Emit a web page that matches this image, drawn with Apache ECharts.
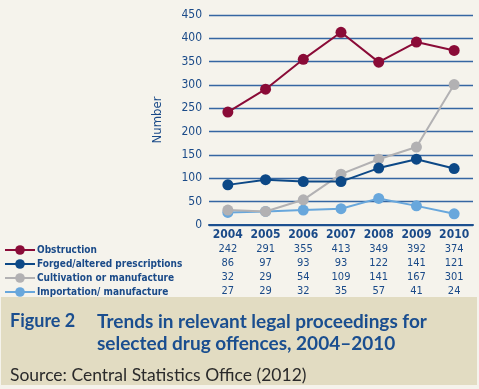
<!DOCTYPE html>
<html><head><meta charset="utf-8">
<script src="https://cdn.jsdelivr.net/npm/echarts@6/dist/echarts.min.js"></script>
<style>html,body{margin:0;padding:0;background:#f5f3ec;}#c{width:479px;height:389px;}</style>
</head><body><div id="c"></div>
<script>
const years = ['2004','2005','2006','2007','2008','2009','2010'];
const obstruction = [242,291,355,413,349,392,374];
const forged = [86,97,93,93,122,141,121];
const cultivation = [32,29,54,109,141,167,301];
const importation = [27,29,32,35,57,41,24];
const seriesNames = ['Obstruction','Forged/altered prescriptions','Cultivation or manufacture','Importation/ manufacture'];
const seriesColors = ['#8a0b37','#0c4886','#b2b1b3','#68a7dc'];
const yTicks = {min:0,max:450,interval:50};

const blue = '#1a4a88';
const font = '"DejaVu Sans Condensed","DejaVu Sans",sans-serif';
const allData = [obstruction, forged, cultivation, importation];

const chart = echarts.init(document.getElementById('c'));
const xAxes = [{
  type:'category', data:years, position:'bottom', gridIndex:0,
  axisLine:{lineStyle:{color:'#1b4f8f',width:2}},
  axisTick:{show:false},
  axisLabel:{color:blue,fontFamily:font,fontWeight:'bold',fontSize:12,margin:4,interval:0}
}];
allData.forEach((arr,i)=>{
  xAxes.push({
    type:'category', data:arr.map(String), position:'bottom', offset:15+14*i,
    axisLine:{show:false}, axisTick:{show:false}, splitLine:{show:false},
    axisLabel:{color:blue,fontFamily:font,fontSize:11,margin:4,interval:0}
  });
});
chart.setOption({
  backgroundColor:'#f5f3ec',
  animation:false,
  grid:{left:209,top:15,width:264,height:210},
  xAxis:xAxes,
  yAxis:{
    type:'value', min:yTicks.min, max:yTicks.max, interval:yTicks.interval,
    name:'Number', nameLocation:'middle', nameGap:45, nameRotate:90,
    nameTextStyle:{color:blue,fontFamily:font,fontSize:13},
    axisLine:{show:false}, axisTick:{show:false},
    axisLabel:{color:blue,fontFamily:font,fontSize:12,margin:7},
    splitLine:{lineStyle:{color:'#3566a2',width:1.4}}
  },
  legend:{
    orient:'vertical', left:-1, top:240, itemWidth:30, itemHeight:12, itemGap:4,
    data:seriesNames,
    textStyle:{color:blue,fontFamily:font,fontWeight:'bold',fontSize:10,padding:[0,0,0,-3]}
  },
  series:allData.map((arr,i)=>({
    name:seriesNames[i], type:'line', data:arr, xAxisIndex:0,
    symbol:'circle', symbolSize:11, z:10-i,
    lineStyle:{color:seriesColors[i],width:2},
    itemStyle:{color:seriesColors[i]}
  })),
  graphic:[
    {type:'rect',left:1,top:297,shape:{width:476,height:88},style:{fill:'#e2dcc2'},z:-1},
    {type:'text',left:10,top:312,style:{text:'Figure 2',fill:'#1a4e8f',font:'bold 18px Lato, sans-serif'}},
    {type:'text',left:97,top:311,style:{text:'Trends in relevant legal proceedings for\nselected drug offences, 2004\u20132010',fill:'#1a4e8f',font:'bold 19px Lato, sans-serif',lineHeight:22}},
    {type:'text',left:10,top:366,style:{text:'Source: Central Statistics Office (2012)',fill:'#2a2a2a',font:'17.5px Lato, sans-serif'}}
  ]
});
</script></body></html>
